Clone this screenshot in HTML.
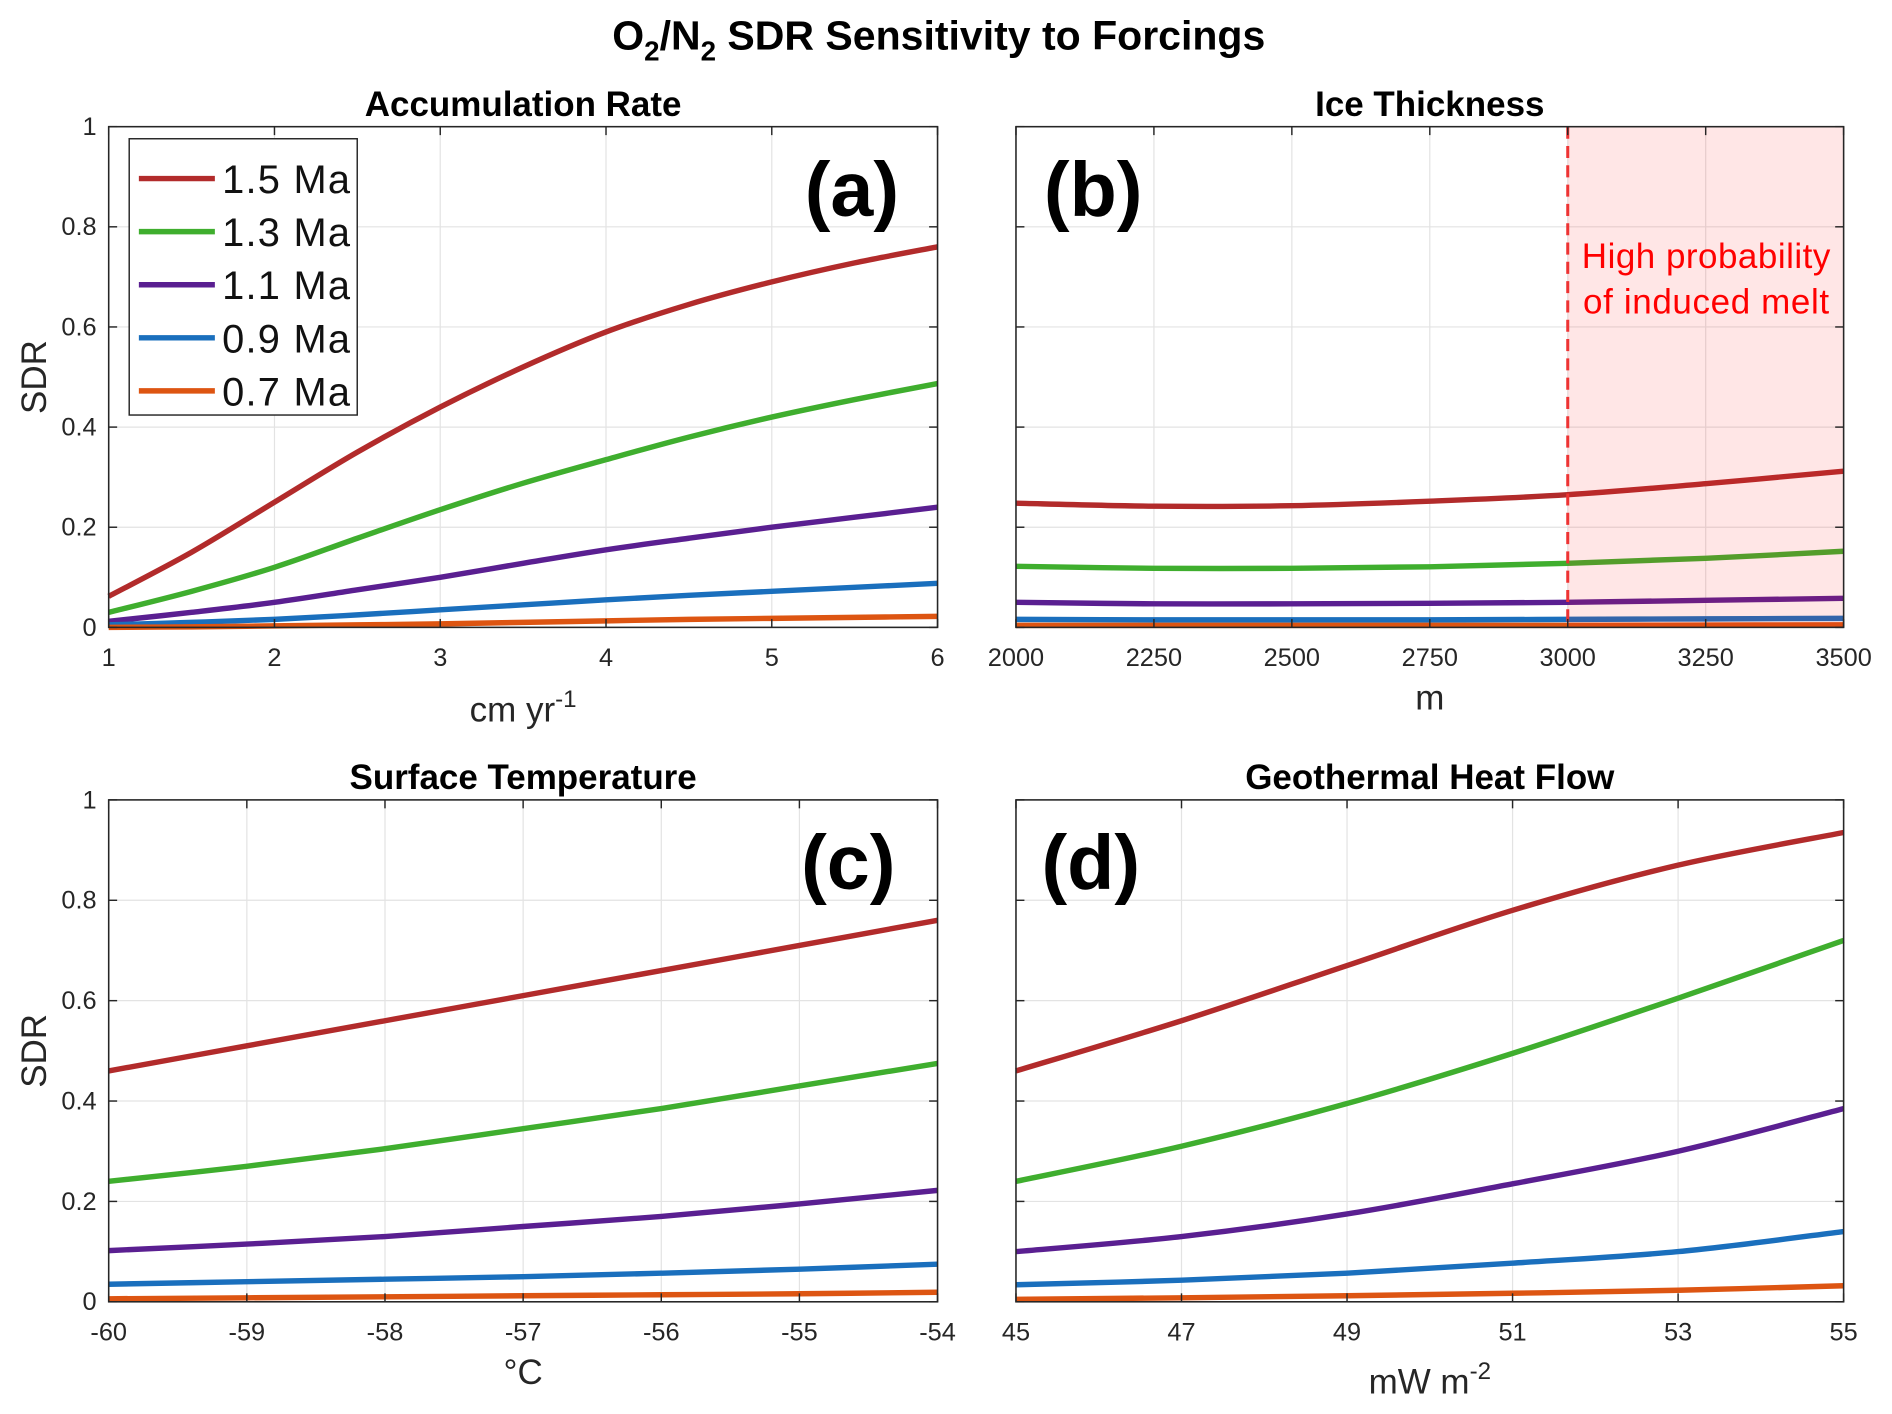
<!DOCTYPE html>
<html><head><meta charset="utf-8"><style>
html,body{margin:0;padding:0;background:#fff}
svg{display:block;font-family:"Liberation Sans",Arial,sans-serif}
</style></head><body>
<svg id="fig" width="1892" height="1414" viewBox="0 0 1568 1172" xmlns="http://www.w3.org/2000/svg">
<text x="778" y="41" text-anchor="middle" font-size="34" font-weight="bold">O<tspan font-size="23" dy="9">2</tspan><tspan dy="-9">/N</tspan><tspan font-size="23" dy="9">2</tspan><tspan dy="-9"> SDR Sensitivity to Forcings</tspan></text>
</svg>
<script>
// ---- data ----
const seriesNames = ["1.5 Ma","1.3 Ma","1.1 Ma","0.9 Ma","0.7 Ma"];
const accX = [1,1.5,2,2.5,3,3.5,4,4.5,5,5.5,6];
const accRed = [0.062,0.15,0.25,0.35,0.44,0.52,0.59,0.645,0.69,0.728,0.76];
const accGreen = [0.03,0.072,0.12,0.178,0.235,0.288,0.335,0.38,0.42,0.455,0.487];
const accPurple = [0.012,0.03,0.05,0.075,0.10,0.128,0.155,0.178,0.20,0.22,0.24];
const accBlue = [0.005,0.01,0.016,0.025,0.035,0.045,0.055,0.064,0.072,0.08,0.088];
const accOrange = [0.0,0.001,0.003,0.005,0.007,0.01,0.013,0.016,0.018,0.02,0.022];
const iceX = [2000,2250,2500,2750,3000,3250,3500];
const iceRed = [0.248,0.242,0.243,0.252,0.265,0.287,0.312];
const iceGreen = [0.122,0.118,0.118,0.121,0.128,0.138,0.152];
const icePurple = [0.05,0.047,0.047,0.048,0.05,0.054,0.058];
const iceBlue = [0.016,0.015,0.015,0.015,0.016,0.017,0.018];
const iceOrange = [0.004,0.004,0.004,0.004,0.004,0.0045,0.005];
const tempX = [-60,-59,-58,-57,-56,-55,-54];
const tempRed = [0.46,0.51,0.56,0.61,0.66,0.71,0.76];
const tempGreen = [0.24,0.27,0.305,0.345,0.385,0.43,0.475];
const tempPurple = [0.102,0.115,0.13,0.15,0.17,0.195,0.222];
const tempBlue = [0.035,0.04,0.045,0.05,0.057,0.065,0.075];
const tempOrange = [0.006,0.008,0.01,0.012,0.014,0.016,0.019];
const geoX = [45,47,49,51,53,55];
const geoRed = [0.46,0.56,0.67,0.78,0.87,0.935];
const geoGreen = [0.24,0.31,0.395,0.495,0.605,0.72];
const geoPurple = [0.10,0.13,0.175,0.235,0.30,0.385];
const geoBlue = [0.034,0.043,0.057,0.077,0.10,0.14];
const geoOrange = [0.005,0.008,0.012,0.017,0.023,0.032];
const yTicks = [0,0.2,0.4,0.6,0.8,1];
const yTickLabels = ["0","0.2","0.4","0.6","0.8","1"];
const accTicks = [1,2,3,4,5,6];
const iceTicks = [2000,2250,2500,2750,3000,3250,3500];
const tempTicks = [-60,-59,-58,-57,-56,-55,-54];
const geoTicks = [45,47,49,51,53,55];
const meltStart = 3000;

const colors = ["#b22b2b","#3fae2e","#5a1f91","#1a6fbd","#dd5512"];
const NS="http://www.w3.org/2000/svg";
const svg=document.getElementById('fig');
function mk(tag,attrs,parent){const e=document.createElementNS(NS,tag);for(const k in attrs)e.setAttribute(k,attrs[k]);(parent||svg).appendChild(e);return e;}

function smoothPath(pts){
  let d=`M${pts[0][0]},${pts[0][1]}`;
  for(let i=0;i<pts.length-1;i++){
    const p0=pts[Math.max(i-1,0)],p1=pts[i],p2=pts[i+1],p3=pts[Math.min(i+2,pts.length-1)];
    const c1=[p1[0]+(p2[0]-p0[0])/6,p1[1]+(p2[1]-p0[1])/6];
    const c2=[p2[0]-(p3[0]-p1[0])/6,p2[1]-(p3[1]-p1[1])/6];
    d+=` C${c1[0]},${c1[1]} ${c2[0]},${c2[1]} ${p2[0]},${p2[1]}`;
  }
  return d;
}

function panel(o){
  const g=mk('g',{});
  
  
  const {L,R,T,B,xmin,xmax}=o;
  const sx=v=>L+(v-xmin)/(xmax-xmin)*(R-L);
  const sy=v=>B-v*(B-T);
  o.xticks.forEach(t=>{ if(t!==xmin&&t!==xmax){const l=mk('line',{x1:sx(t),x2:sx(t),y1:T,y2:B,stroke:'#e3e3e3','stroke-width':1},g);}});
  yTicks.forEach(t=>{ if(t>0&&t<1){const l=mk('line',{x1:L,x2:R,y1:sy(t),y2:sy(t),stroke:'#e3e3e3','stroke-width':1},g);}});
  o.series.forEach((ys,i)=>{
    const pts=o.x.map((v,j)=>[sx(v),sy(ys[j])]);
    const p=mk('path',{d:smoothPath(pts),fill:'none',stroke:colors[i],'stroke-width':4.5,'stroke-linejoin':'round'},g);
    
    
  });
  if(o.melt!==undefined){
    const r=mk('rect',{x:sx(o.melt),y:T,width:R-sx(o.melt),height:B-T,fill:'#ff1a1a','fill-opacity':0.11},g);
    
    
    const dl=mk('line',{x1:sx(o.melt),x2:sx(o.melt),y1:T,y2:B,stroke:'#ee3333','stroke-width':2.5,'stroke-dasharray':'10,6'},g);
    
    
    const t1=mk('text',{x:1414,y:222,'text-anchor':'middle','font-size':29,fill:'#ff0000',textLength:206},g);t1.textContent='High probability';
    
    
    const t2=mk('text',{x:1414,y:260,'text-anchor':'middle','font-size':29,fill:'#ff0000',textLength:204},g);t2.textContent='of induced melt';
    
    
  }
  const box=mk('rect',{x:L,y:T,width:R-L,height:B-T,fill:'none',stroke:'#262626','stroke-width':1.3},g);
  
  
  o.xticks.forEach((t,i)=>{
    mk('line',{x1:sx(t),x2:sx(t),y1:B,y2:B-7,stroke:'#262626','stroke-width':1.2},g);
    mk('line',{x1:sx(t),x2:sx(t),y1:T,y2:T+7,stroke:'#262626','stroke-width':1.2},g);
    const tx=mk('text',{x:sx(t),y:B+32,'text-anchor':'middle','font-size':21,fill:'#262626'},g);
    tx.textContent=String(t);
    
    
  });
  yTicks.forEach((t,i)=>{
    mk('line',{x1:L,x2:L+7,y1:sy(t),y2:sy(t),stroke:'#262626','stroke-width':1.2},g);
    mk('line',{x1:R,x2:R-7,y1:sy(t),y2:sy(t),stroke:'#262626','stroke-width':1.2},g);
    if(o.ylabels){
      const ty=mk('text',{x:L-10,y:sy(t)+7,'text-anchor':'end','font-size':21,fill:'#262626'},g);
      ty.textContent=yTickLabels[i];
      
      
    }
  });
  const ti=mk('text',{x:(L+R)/2,y:T-9,'text-anchor':'middle','font-size':29,'font-weight':'bold'},g);
  ti.textContent=o.title;
  
  
  const pl=mk('text',{x:o.plx,y:T+74,'text-anchor':'middle','font-size':64,'font-weight':'bold'},g);
  pl.textContent=o.label;
  
  
  const xl=mk('text',{x:(L+R)/2,y:o.xly,'text-anchor':'middle','font-size':29,fill:'#262626'},g);
  xl.innerHTML=o.xlabel;
  
  
  if(o.ylabels){
    const yl=mk('text',{x:38,y:(T+B)/2,'text-anchor':'middle','font-size':29,fill:'#262626',transform:`rotate(-90 38 ${(T+B)/2})`},g);
    yl.textContent='SDR';
    
    
  }
  return g;
}

panel({name:'panel-accumulation-rate',L:90,R:777,T:105,B:520,xmin:1,xmax:6,x:accX,series:[accRed,accGreen,accPurple,accBlue,accOrange],xticks:accTicks,ylabels:true,title:'Accumulation Rate',label:'(a)',plx:706,xlabel:'cm yr<tspan font-size="20" dy="-12">-1</tspan>',xly:598});
panel({name:'panel-ice-thickness',L:842,R:1528,T:105,B:520,xmin:2000,xmax:3500,x:iceX,series:[iceRed,iceGreen,icePurple,iceBlue,iceOrange],xticks:iceTicks,ylabels:false,title:'Ice Thickness',label:'(b)',plx:906,xlabel:'m',xly:588,melt:meltStart});
panel({name:'panel-surface-temperature',L:90,R:777,T:663,B:1079,xmin:-60,xmax:-54,x:tempX,series:[tempRed,tempGreen,tempPurple,tempBlue,tempOrange],xticks:tempTicks,ylabels:true,title:'Surface Temperature',label:'(c)',plx:703,xlabel:'°C',xly:1147});
panel({name:'panel-geothermal-heat-flow',L:842,R:1528,T:663,B:1079,xmin:45,xmax:55,x:geoX,series:[geoRed,geoGreen,geoPurple,geoBlue,geoOrange],xticks:geoTicks,ylabels:false,title:'Geothermal Heat Flow',label:'(d)',plx:904,xlabel:'mW m<tspan font-size="20" dy="-12">-2</tspan>',xly:1155});

const lg=mk('g',{});


mk('rect',{x:107,y:115,width:189,height:229,fill:'#fff',stroke:'#262626','stroke-width':1.2},lg);
seriesNames.forEach((n,i)=>{
  const y=148+i*44;
  const e=mk('g',{},lg);
  
  
  mk('line',{x1:115,x2:178,y1:y,y2:y,stroke:colors[i],'stroke-width':4.5},e);
  const t=mk('text',{x:184,y:y+12,'font-size':33,fill:'#111',textLength:106},e);
  t.textContent=n;
});
</script>
</body></html>
